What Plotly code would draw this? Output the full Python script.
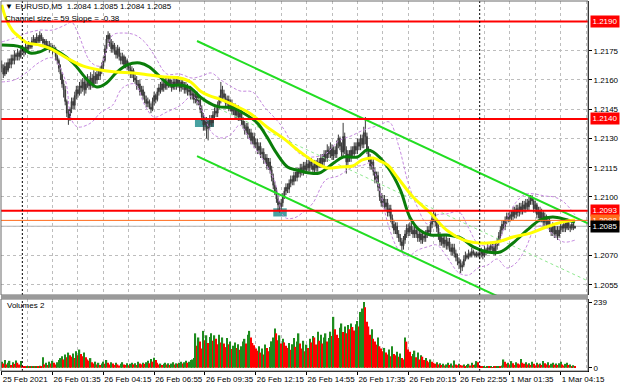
import plotly.graph_objects as go

# ---------------- data ----------------
tick_bars = [0, 32, 64, 96, 128, 160, 192, 224, 256, 288, 320, 352]
tick_labels = ["25 Feb 2021", "26 Feb 01:35", "26 Feb 04:15", "26 Feb 06:55", "26 Feb 09:35",
               "26 Feb 12:15", "26 Feb 14:55", "26 Feb 17:35", "26 Feb 20:15", "26 Feb 22:55",
               "1 Mar 01:35", "1 Mar 04:15"]
price_ticks = [1.2055, 1.2070, 1.2085, 1.2100, 1.2115, 1.2130, 1.2145, 1.2160, 1.2175]
separator_bars = [13, 301]

first_open = 1.2168
closes = [
    1.2166, 1.2163, 1.2167, 1.2165, 1.2169, 1.2168, 1.2171, 1.2170, 1.2173, 1.2172,
    1.2174, 1.2172, 1.2175, 1.2176, 1.2174, 1.2177, 1.2176, 1.2178, 1.2177, 1.2180,
    1.2181, 1.2179, 1.2182, 1.2180, 1.2183, 1.2181, 1.2179, 1.2180, 1.2177, 1.2178,
    1.2176, 1.2177, 1.2175, 1.2176, 1.2172, 1.2170, 1.2166, 1.2163, 1.2158, 1.2155,
    1.2149, 1.2143, 1.2140, 1.2145, 1.2149, 1.2147, 1.2152, 1.2155, 1.2153, 1.2157,
    1.2156, 1.2159, 1.2155, 1.2158, 1.2160, 1.2157, 1.2161, 1.2158, 1.2162, 1.2160,
    1.2163, 1.2162, 1.2165, 1.2167, 1.2170, 1.2176, 1.2181, 1.2183, 1.2179, 1.2176,
    1.2178, 1.2175, 1.2173, 1.2176, 1.2172, 1.2170, 1.2172, 1.2168, 1.2170, 1.2167,
    1.2166, 1.2163, 1.2165, 1.2161, 1.2160, 1.2157, 1.2158, 1.2154, 1.2155, 1.2152,
    1.2150, 1.2148, 1.2149, 1.2146, 1.2145, 1.2149, 1.2152, 1.2150, 1.2154, 1.2156,
    1.2155, 1.2158, 1.2156, 1.2159, 1.2157, 1.2160, 1.2158, 1.2156, 1.2159, 1.2157,
    1.2160, 1.2158, 1.2156, 1.2159, 1.2157, 1.2155, 1.2157, 1.2154, 1.2155, 1.2152,
    1.2153, 1.2150, 1.2152, 1.2149, 1.2150, 1.2145, 1.2141, 1.2137, 1.2139, 1.2135,
    1.2137, 1.2140, 1.2138, 1.2142, 1.2144, 1.2143, 1.2147, 1.2150, 1.2155, 1.2153,
    1.2151, 1.2148, 1.2150, 1.2146, 1.2148, 1.2144, 1.2146, 1.2142, 1.2145, 1.2141,
    1.2143, 1.2139, 1.2137, 1.2134, 1.2136, 1.2132, 1.2133, 1.2129, 1.2131, 1.2127,
    1.2128, 1.2124, 1.2126, 1.2122, 1.2123, 1.2119, 1.2120, 1.2116, 1.2118, 1.2114,
    1.2110, 1.2106, 1.2103, 1.2099, 1.2096, 1.2095, 1.2097, 1.2100, 1.2103, 1.2105,
    1.2104, 1.2107, 1.2109, 1.2108, 1.2111, 1.2110, 1.2113, 1.2112, 1.2115, 1.2113,
    1.2116, 1.2114, 1.2117, 1.2115, 1.2118, 1.2116, 1.2114, 1.2117, 1.2115, 1.2118,
    1.2117, 1.2120, 1.2118, 1.2122, 1.2120, 1.2124, 1.2122, 1.2125, 1.2121, 1.2124,
    1.2122, 1.2127, 1.2130, 1.2126, 1.2123, 1.2131, 1.2124, 1.2118, 1.2122, 1.2120,
    1.2124, 1.2122, 1.2126, 1.2124, 1.2128, 1.2126, 1.2130, 1.2127, 1.2133, 1.2131,
    1.2124, 1.2120, 1.2116, 1.2118, 1.2113, 1.2109, 1.2111, 1.2105, 1.2100, 1.2097,
    1.2099, 1.2095, 1.2097, 1.2092, 1.2094, 1.2089, 1.2086, 1.2083, 1.2085, 1.2081,
    1.2079, 1.2077, 1.2075, 1.2078, 1.2081, 1.2084, 1.2082, 1.2085, 1.2083, 1.2081,
    1.2083, 1.2081, 1.2079, 1.2081, 1.2078, 1.2080, 1.2079, 1.2081, 1.2083, 1.2082,
    1.2086, 1.2089, 1.2091, 1.2087, 1.2084, 1.2080, 1.2077, 1.2079, 1.2076, 1.2078,
    1.2075, 1.2077, 1.2074, 1.2072, 1.2074, 1.2071, 1.2069, 1.2067, 1.2066, 1.2064,
    1.2065, 1.2068, 1.2070, 1.2069, 1.2071, 1.2070, 1.2072, 1.2071, 1.2070, 1.2071,
    1.2070, 1.2071, 1.2072, 1.2070, 1.2073, 1.2072, 1.2074, 1.2073, 1.2075, 1.2074,
    1.2072, 1.2075, 1.2077, 1.2080, 1.2083, 1.2086, 1.2085, 1.2088, 1.2090, 1.2089,
    1.2091, 1.2090, 1.2093, 1.2091, 1.2094, 1.2092, 1.2095, 1.2093, 1.2096, 1.2094,
    1.2097, 1.2095, 1.2098, 1.2100, 1.2098, 1.2094, 1.2096, 1.2091, 1.2093, 1.2089,
    1.2092, 1.2087, 1.2090, 1.2086, 1.2088, 1.2084, 1.2082, 1.2085, 1.2081, 1.2083,
    1.2080, 1.2083, 1.2085, 1.2084, 1.2086, 1.2084, 1.2087, 1.2085, 1.2084, 1.2086, 1.2084, 1.2085,
]
highs = [
    1.2170, 1.2168, 1.2169, 1.2169, 1.2171, 1.2171, 1.2173, 1.2173, 1.2175, 1.2174,
    1.2176, 1.2175, 1.2177, 1.2178, 1.2177, 1.2179, 1.2178, 1.2180, 1.2179, 1.2182,
    1.2183, 1.2182, 1.2184, 1.2183, 1.2185, 1.2184, 1.2182, 1.2181, 1.2181, 1.2180,
    1.2180, 1.2179, 1.2178, 1.2178, 1.2177, 1.2173, 1.2171, 1.2168, 1.2164, 1.2160,
    1.2157, 1.2150, 1.2145, 1.2146, 1.2151, 1.2151, 1.2154, 1.2157, 1.2157, 1.2159,
    1.2160, 1.2161, 1.2161, 1.2160, 1.2163, 1.2162, 1.2164, 1.2163, 1.2165, 1.2164,
    1.2165, 1.2165, 1.2167, 1.2169, 1.2172, 1.2178, 1.2183, 1.2185, 1.2184, 1.2181,
    1.2180, 1.2179, 1.2177, 1.2178, 1.2177, 1.2174, 1.2174, 1.2173, 1.2172, 1.2171,
    1.2169, 1.2168, 1.2167, 1.2166, 1.2163, 1.2162, 1.2160, 1.2160, 1.2157, 1.2157,
    1.2154, 1.2152, 1.2151, 1.2150, 1.2148, 1.2151, 1.2154, 1.2153, 1.2156, 1.2158,
    1.2159, 1.2160, 1.2160, 1.2161, 1.2161, 1.2162, 1.2162, 1.2160, 1.2161, 1.2161,
    1.2162, 1.2162, 1.2160, 1.2161, 1.2161, 1.2159, 1.2159, 1.2158, 1.2157, 1.2157,
    1.2156, 1.2155, 1.2154, 1.2154, 1.2152, 1.2152, 1.2147, 1.2143, 1.2141, 1.2141,
    1.2139, 1.2142, 1.2142, 1.2144, 1.2146, 1.2146, 1.2149, 1.2152, 1.2159, 1.2157,
    1.2155, 1.2153, 1.2152, 1.2152, 1.2150, 1.2150, 1.2148, 1.2148, 1.2147, 1.2147,
    1.2145, 1.2145, 1.2141, 1.2139, 1.2138, 1.2138, 1.2135, 1.2135, 1.2133, 1.2133,
    1.2130, 1.2130, 1.2128, 1.2128, 1.2125, 1.2125, 1.2122, 1.2122, 1.2120, 1.2120,
    1.2116, 1.2112, 1.2108, 1.2105, 1.2101, 1.2098, 1.2099, 1.2102, 1.2105, 1.2107,
    1.2107, 1.2109, 1.2111, 1.2111, 1.2113, 1.2113, 1.2115, 1.2115, 1.2117, 1.2117,
    1.2118, 1.2118, 1.2119, 1.2119, 1.2120, 1.2120, 1.2118, 1.2119, 1.2119, 1.2120,
    1.2120, 1.2122, 1.2122, 1.2124, 1.2124, 1.2127, 1.2126, 1.2128, 1.2127, 1.2126,
    1.2126, 1.2129, 1.2132, 1.2131, 1.2128, 1.2138, 1.2133, 1.2126, 1.2124, 1.2124,
    1.2126, 1.2126, 1.2128, 1.2128, 1.2130, 1.2130, 1.2132, 1.2132, 1.2136, 1.2141,
    1.2133, 1.2126, 1.2122, 1.2120, 1.2120, 1.2115, 1.2113, 1.2113, 1.2107, 1.2102,
    1.2101, 1.2101, 1.2099, 1.2099, 1.2096, 1.2096, 1.2091, 1.2088, 1.2087, 1.2087,
    1.2083, 1.2081, 1.2079, 1.2080, 1.2083, 1.2086, 1.2086, 1.2087, 1.2087, 1.2085,
    1.2085, 1.2085, 1.2083, 1.2083, 1.2083, 1.2082, 1.2082, 1.2083, 1.2085, 1.2085,
    1.2088, 1.2091, 1.2093, 1.2092, 1.2089, 1.2086, 1.2082, 1.2081, 1.2081, 1.2080,
    1.2080, 1.2079, 1.2079, 1.2076, 1.2076, 1.2076, 1.2073, 1.2071, 1.2069, 1.2068,
    1.2067, 1.2070, 1.2072, 1.2071, 1.2073, 1.2072, 1.2074, 1.2073, 1.2072, 1.2072,
    1.2072, 1.2073, 1.2074, 1.2073, 1.2075, 1.2074, 1.2076, 1.2075, 1.2077, 1.2076,
    1.2076, 1.2077, 1.2079, 1.2082, 1.2085, 1.2088, 1.2088, 1.2090, 1.2092, 1.2092,
    1.2093, 1.2093, 1.2095, 1.2095, 1.2096, 1.2096, 1.2097, 1.2097, 1.2098, 1.2098,
    1.2099, 1.2099, 1.2100, 1.2101, 1.2101, 1.2099, 1.2098, 1.2097, 1.2095, 1.2095,
    1.2094, 1.2093, 1.2092, 1.2091, 1.2090, 1.2089, 1.2086, 1.2087, 1.2086, 1.2085,
    1.2085, 1.2085, 1.2087, 1.2086, 1.2088, 1.2087, 1.2089, 1.2088, 1.2086, 1.2087, 1.2087, 1.2085,
]
lows = [
    1.2164, 1.2161, 1.2162, 1.2163, 1.2164, 1.2166, 1.2166, 1.2168, 1.2168, 1.2170,
    1.2170, 1.2170, 1.2171, 1.2174, 1.2172, 1.2173, 1.2175, 1.2175, 1.2176, 1.2176,
    1.2179, 1.2178, 1.2178, 1.2179, 1.2179, 1.2180, 1.2178, 1.2178, 1.2176, 1.2176,
    1.2174, 1.2175, 1.2173, 1.2174, 1.2170, 1.2168, 1.2164, 1.2160, 1.2156, 1.2151,
    1.2147, 1.2141, 1.2137, 1.2139, 1.2143, 1.2145, 1.2145, 1.2150, 1.2151, 1.2152,
    1.2153, 1.2154, 1.2152, 1.2153, 1.2156, 1.2155, 1.2155, 1.2156, 1.2156, 1.2158,
    1.2158, 1.2160, 1.2160, 1.2163, 1.2165, 1.2169, 1.2174, 1.2179, 1.2177, 1.2174,
    1.2174, 1.2173, 1.2171, 1.2171, 1.2170, 1.2168, 1.2168, 1.2166, 1.2166, 1.2165,
    1.2164, 1.2161, 1.2161, 1.2159, 1.2158, 1.2155, 1.2155, 1.2152, 1.2152, 1.2150,
    1.2148, 1.2146, 1.2146, 1.2145, 1.2143, 1.2144, 1.2147, 1.2148, 1.2149, 1.2152,
    1.2153, 1.2154, 1.2154, 1.2155, 1.2155, 1.2156, 1.2156, 1.2154, 1.2155, 1.2155,
    1.2155, 1.2156, 1.2154, 1.2154, 1.2155, 1.2153, 1.2153, 1.2152, 1.2152, 1.2150,
    1.2150, 1.2148, 1.2148, 1.2147, 1.2147, 1.2143, 1.2139, 1.2134, 1.2134, 1.2130,
    1.2129, 1.2135, 1.2136, 1.2136, 1.2140, 1.2141, 1.2141, 1.2145, 1.2148, 1.2150,
    1.2149, 1.2146, 1.2146, 1.2144, 1.2144, 1.2142, 1.2142, 1.2140, 1.2140, 1.2139,
    1.2139, 1.2137, 1.2135, 1.2132, 1.2132, 1.2130, 1.2130, 1.2127, 1.2127, 1.2125,
    1.2125, 1.2122, 1.2122, 1.2120, 1.2120, 1.2117, 1.2117, 1.2114, 1.2114, 1.2112,
    1.2108, 1.2104, 1.2101, 1.2097, 1.2093, 1.2092, 1.2093, 1.2095, 1.2099, 1.2101,
    1.2102, 1.2102, 1.2105, 1.2106, 1.2106, 1.2108, 1.2108, 1.2110, 1.2110, 1.2111,
    1.2111, 1.2112, 1.2112, 1.2113, 1.2113, 1.2114, 1.2112, 1.2112, 1.2113, 1.2113,
    1.2115, 1.2115, 1.2116, 1.2116, 1.2118, 1.2118, 1.2120, 1.2120, 1.2119, 1.2119,
    1.2120, 1.2120, 1.2125, 1.2124, 1.2121, 1.2121, 1.2122, 1.2112, 1.2115, 1.2118,
    1.2118, 1.2120, 1.2120, 1.2122, 1.2122, 1.2124, 1.2124, 1.2125, 1.2125, 1.2127,
    1.2122, 1.2118, 1.2114, 1.2114, 1.2111, 1.2107, 1.2107, 1.2103, 1.2098, 1.2095,
    1.2095, 1.2093, 1.2093, 1.2090, 1.2090, 1.2087, 1.2084, 1.2081, 1.2081, 1.2079,
    1.2077, 1.2075, 1.2072, 1.2073, 1.2076, 1.2079, 1.2080, 1.2080, 1.2081, 1.2079,
    1.2079, 1.2079, 1.2077, 1.2077, 1.2076, 1.2076, 1.2077, 1.2077, 1.2079, 1.2080,
    1.2080, 1.2084, 1.2087, 1.2085, 1.2082, 1.2078, 1.2075, 1.2075, 1.2074, 1.2074,
    1.2073, 1.2073, 1.2072, 1.2070, 1.2070, 1.2069, 1.2067, 1.2065, 1.2063, 1.2061,
    1.2062, 1.2064, 1.2067, 1.2068, 1.2068, 1.2069, 1.2069, 1.2070, 1.2069, 1.2069,
    1.2069, 1.2068, 1.2069, 1.2068, 1.2069, 1.2070, 1.2071, 1.2071, 1.2072, 1.2072,
    1.2070, 1.2070, 1.2073, 1.2075, 1.2078, 1.2081, 1.2083, 1.2083, 1.2086, 1.2087,
    1.2087, 1.2088, 1.2088, 1.2089, 1.2089, 1.2090, 1.2090, 1.2091, 1.2091, 1.2092,
    1.2092, 1.2093, 1.2093, 1.2096, 1.2096, 1.2092, 1.2092, 1.2089, 1.2089, 1.2087,
    1.2087, 1.2085, 1.2085, 1.2084, 1.2084, 1.2082, 1.2080, 1.2080, 1.2079, 1.2079,
    1.2078, 1.2079, 1.2081, 1.2082, 1.2082, 1.2082, 1.2083, 1.2083, 1.2082, 1.2083, 1.2083, 1.2084,
]
volumes = [
    22, 15, 28, 12, 18, 25, 10, 20, 14, 26,
    18, 12, 24, 8, 5, 4, 6, 3, 5, 4,
    6, 3, 5, 4, 7, 5, 38, 12, 18, 10,
    22, 15, 25, 18, 12, 20, 28, 35, 42, 30,
    48, 38, 55, 45, 40, 52, 35, 60, 45, 66,
    50, 42, 55, 38, 30, 25, 35, 20, 15, 22,
    12, 18, 10, 15, 22, 14, 28, 18, 12, 20,
    15, 10, 18, 12, 8, 14, 20, 12, 10, 16,
    9, 14, 18, 12, 16, 10, 22, 15, 12, 18,
    14, 20, 25, 16, 32, 22, 36, 28, 18, 12,
    15, 10, 14, 18, 12, 16, 10, 15, 20, 12,
    16, 14, 18, 22, 15, 20, 25, 18, 22, 28,
    30, 35, 125, 80, 110, 95, 70, 134, 100, 118,
    90, 112, 125, 98, 118, 105, 85, 120, 92, 110,
    88, 75, 108, 85, 95, 68, 80, 92, 72, 85,
    65, 78, 95, 105, 88, 120, 134, 110, 90, 82,
    70, 62, 78, 55, 70, 48, 84, 72, 60, 75,
    96, 110, 143, 125, 100, 118, 88, 105, 92, 80,
    72, 90, 65, 85, 108, 76, 95, 125, 88, 70,
    98, 60, 84, 72, 105, 92, 115, 110, 84, 131,
    98, 120, 88, 110, 125, 95, 108, 131, 115, 185,
    140, 120, 108, 145, 161, 130, 150, 125, 155, 140,
    161, 148, 135, 158, 170, 150, 203, 215, 239, 220,
    167, 150, 120, 140, 105, 95, 84, 110, 78, 70,
    60, 72, 55, 48, 66, 42, 78, 50, 45, 58,
    40, 52, 35, 30, 110, 95, 66, 58, 42, 50,
    62, 38, 55, 30, 45, 40, 28, 35, 25, 20,
    30, 22, 18, 14, 20, 12, 16, 10, 14, 8,
    12, 18, 10, 15, 8, 26, 12, 9, 14, 10,
    8, 12, 6, 10, 14, 8, 18, 10, 12, 24,
    20, 6, 4, 3, 5, 2, 4, 3, 5, 2,
    4, 3, 5, 6, 4, 8, 30, 22, 14, 18,
    12, 24, 16, 10, 20, 15, 12, 32, 18, 14,
    20, 12, 16, 10, 22, 14, 8, 18, 12, 15,
    10, 24, 16, 12, 20, 9, 14, 18, 11, 15,
    10, 16, 22, 12, 8, 14, 18, 10, 12, 6, 9, 4,
]
volume_max_label = 239

green_ma_bars = [0, 12, 18, 24, 30, 37, 45, 54, 60, 66, 72, 79, 87, 93, 100, 106, 112, 119, 125,
                 133, 137, 146, 152, 161, 167, 173, 180, 186, 194, 200, 209, 215, 224, 230, 234,
                 243, 251, 257, 263, 270, 280, 289, 297, 306, 314, 322, 331, 339, 347, 356, 361]
green_ma = [1.21779, 1.21769, 1.21738, 1.21744, 1.21764, 1.21738, 1.21687, 1.21600, 1.21564,
            1.21585, 1.21636, 1.21677, 1.21687, 1.21667, 1.21615, 1.21574, 1.21574, 1.21559,
            1.21513, 1.21472, 1.21462, 1.21456, 1.21431, 1.21379, 1.21308, 1.21226, 1.21154,
            1.21138, 1.21123, 1.21123, 1.21174, 1.21205, 1.21205, 1.21241, 1.21231, 1.21154,
            1.21036, 1.20897, 1.20831, 1.20805, 1.20805, 1.20790, 1.20744, 1.20718, 1.20718,
            1.20764, 1.20831, 1.20882, 1.20897, 1.20882, 1.20872]

yellow_ma_bars = [0, 3, 7, 12, 16, 24, 30, 41, 51, 62, 72, 83, 93, 104, 112, 119, 125, 131, 137,
                  146, 156, 167, 177, 188, 198, 205, 213, 221, 227, 234, 238, 243, 249, 259, 270,
                  280, 291, 301, 312, 322, 333, 343, 353, 361]
yellow_ma = [1.21985, 1.21908, 1.21851, 1.21815, 1.21790, 1.21779, 1.21764, 1.21713, 1.21672,
             1.21651, 1.21641, 1.21636, 1.21626, 1.21615, 1.21610, 1.21590, 1.21544, 1.21518,
             1.21503, 1.21472, 1.21431, 1.21359, 1.21303, 1.21231, 1.21174, 1.21149, 1.21154,
             1.21159, 1.21190, 1.21200, 1.21185, 1.21164, 1.21103, 1.21000, 1.20918, 1.20831,
             1.20779, 1.20764, 1.20769, 1.20795, 1.20815, 1.20846, 1.20872, 1.20882]

bb_bars = [0, 8, 16, 24, 32, 40, 44, 48, 56, 62, 66, 70, 76, 84, 90, 96, 104, 112, 120, 126, 132,
           138, 144, 150, 158, 166, 172, 178, 184, 190, 196, 204, 212, 220, 228, 232, 238, 244,
           250, 256, 262, 268, 274, 280, 288, 294, 300, 306, 312, 318, 324, 330, 336, 342, 348,
           354, 361]
bb_upper = [1.21795, 1.21815, 1.21841, 1.21856, 1.21856, 1.21882, 1.21897, 1.21841, 1.21692,
            1.21672, 1.21754, 1.21831, 1.21841, 1.21831, 1.21795, 1.21728, 1.21631, 1.21631,
            1.21610, 1.21621, 1.21636, 1.21600, 1.21569, 1.21544, 1.21538, 1.21456, 1.21405,
            1.21344, 1.21251, 1.21210, 1.21205, 1.21221, 1.21287, 1.21313, 1.21344, 1.21354,
            1.21369, 1.21385, 1.21262, 1.21072, 1.20944, 1.20862, 1.20908, 1.20913, 1.20923,
            1.20841, 1.20759, 1.20749, 1.20759, 1.20882, 1.20974, 1.21015, 1.21015, 1.21005,
            1.21000, 1.20974, 1.20908]
bb_lower = [1.21590, 1.21600, 1.21641, 1.21692, 1.21713, 1.21600, 1.21395, 1.21359, 1.21379,
            1.21431, 1.21451, 1.21472, 1.21559, 1.21579, 1.21472, 1.21410, 1.21436, 1.21467,
            1.21518, 1.21446, 1.21333, 1.21303, 1.21318, 1.21369, 1.21267, 1.21174, 1.21077,
            1.20897, 1.20892, 1.20923, 1.20969, 1.21087, 1.21108, 1.21149, 1.21164, 1.21174,
            1.21036, 1.20841, 1.20728, 1.20697, 1.20728, 1.20744, 1.20754, 1.20697, 1.20610,
            1.20600, 1.20636, 1.20651, 1.20682, 1.20636, 1.20662, 1.20738, 1.20841, 1.20851,
            1.20800, 1.20769, 1.20779]

channel_start_bar = 123
channel_end_bar = 372
channel_upper_start = 1.2180
channel_size = 0.0059          # "Channel size = 59"
channel_slope = -0.000038      # "Slope = -0.38" pips per bar

level_prices = [1.2190, 1.2140, 1.2093]
orange_level = 1.2088
bid_price = 1.2085

zone_bar_start = [121.7, 171.0]
zone_bar_end = [133.7, 179.5]
zone_low = [1.21359, 1.20900]
zone_high = [1.21397, 1.20942]

title_text = "\u25BC EURUSD,M5  1.2084 1.2085 1.2084 1.2085"
channel_text = "Channel size = 59 Slope = -0.38"

# ---------------- derived ----------------
bars = list(range(len(closes)))
opens = [first_open] + closes[:-1]
vol_colors = ["#1e8c1e" if i == 0 or volumes[i] >= volumes[i - 1] else "#ff0000"
              for i in range(len(volumes))]

x_range = [-0.44, 369.2]
y_range = [1.204974, 1.220051]
vol_range = [-12, 250]
MAIN_DOM = [0.2054, 1.0]
VOL_DOM = [0.0, 0.1946]
FONT = "Liberation Sans, Arial, DejaVu Sans, sans-serif"
GRID = "#bdbdbd"

ch_x = [channel_start_bar, channel_end_bar]
ch_upper = [channel_upper_start, channel_upper_start + channel_slope * (channel_end_bar - channel_start_bar)]
ch_mid = [v - channel_size / 2 for v in ch_upper]
ch_lower = [v - channel_size for v in ch_upper]

fig = go.Figure()

# Bollinger-like envelopes
for band in (bb_upper, bb_lower):
    fig.add_trace(go.Scatter(x=bb_bars, y=band, mode="lines", xaxis="x", yaxis="y",
                             line=dict(color="#c68ae0", width=1, dash="3px,2px", shape="spline"),
                             hoverinfo="skip"))
# channel middle (dotted)
fig.add_trace(go.Scatter(x=ch_x, y=ch_mid, mode="lines", xaxis="x", yaxis="y",
                         line=dict(color="#8fe88f", width=1, dash="3px,3px"), hoverinfo="skip"))
# candles
fig.add_trace(go.Candlestick(x=bars, open=opens, high=highs, low=lows, close=closes,
                             xaxis="x", yaxis="y", whiskerwidth=0,
                             increasing=dict(line=dict(color="#3a3a3a", width=1), fillcolor="#3a3a3a"),
                             decreasing=dict(line=dict(color="#3a3a3a", width=1), fillcolor="#3a3a3a"),
                             hoverinfo="skip"))
# moving averages
fig.add_trace(go.Scatter(x=green_ma_bars, y=green_ma, mode="lines", xaxis="x", yaxis="y",
                         line=dict(color="#0a7d0a", width=3, shape="spline"), hoverinfo="skip"))
fig.add_trace(go.Scatter(x=yellow_ma_bars, y=yellow_ma, mode="lines", xaxis="x", yaxis="y",
                         line=dict(color="#ffff00", width=3, shape="spline"), hoverinfo="skip"))
# channel borders
for ch in (ch_upper, ch_lower):
    fig.add_trace(go.Scatter(x=ch_x, y=ch, mode="lines", xaxis="x", yaxis="y",
                             line=dict(color="#22dd22", width=2), hoverinfo="skip"))
# volumes
fig.add_trace(go.Bar(x=bars, y=volumes, xaxis="x2", yaxis="y2", width=0.85,
                     marker=dict(color=vol_colors, line=dict(width=0)), hoverinfo="skip"))

shapes = []
for x0, x1, lo, hi in zip(zone_bar_start, zone_bar_end, zone_low, zone_high):
    shapes.append(dict(type="rect", xref="x", yref="y", x0=x0, x1=x1, y0=lo, y1=hi,
                       fillcolor="rgba(40,145,145,0.85)", line=dict(width=0), layer="between"))
for lv in level_prices:
    shapes.append(dict(type="line", xref="paper", yref="y", x0=0, x1=1, y0=lv, y1=lv,
                       line=dict(color="#ff0000", width=2), layer="above"))
shapes.append(dict(type="line", xref="paper", yref="y", x0=0, x1=1, y0=orange_level, y1=orange_level,
                   line=dict(color="#ff6a1a", width=1), layer="above"))
shapes.append(dict(type="line", xref="paper", yref="y", x0=0, x1=1, y0=bid_price, y1=bid_price,
                   line=dict(color="#b0b0b0", width=1), layer="between"))
for sb in separator_bars:
    shapes.append(dict(type="line", xref="x", yref="paper", x0=sb, x1=sb, y0=0, y1=1,
                       line=dict(color="#000000", width=1, dash="2px,2px"), layer="above"))
shapes.append(dict(type="rect", xref="paper", yref="paper", x0=0, x1=1, y0=MAIN_DOM[0], y1=1,
                   line=dict(color="#6a6a6a", width=1), layer="above"))
shapes.append(dict(type="rect", xref="paper", yref="paper", x0=0, x1=1, y0=VOL_DOM[0], y1=VOL_DOM[1],
                   line=dict(color="#6a6a6a", width=1), layer="above"))
shapes.append(dict(type="rect", xref="paper", yref="paper", x0=0, x1=1, y0=VOL_DOM[1], y1=MAIN_DOM[0],
                   fillcolor="#9a9a9a", line=dict(width=0), layer="above"))

annotations = []
box_specs = [(lv, "#ff0000", "#ffffff") for lv in level_prices]
box_specs += [(orange_level, "#ff6a1a", "#ffffff"), (bid_price, "#000000", "#ffffff")]
for lv, bg, fg in box_specs:
    annotations.append(dict(xref="paper", yref="y", x=1.0026, y=lv, xanchor="left", yanchor="middle",
                            text=f"{lv:.4f}", showarrow=False, bgcolor=bg, borderpad=1, width=26,
                            font=dict(family=FONT, size=8, color=fg)))
annotations.append(dict(xref="paper", yref="paper", x=0.004, y=0.9838, xanchor="left", yanchor="middle",
                        text=title_text, showarrow=False, font=dict(family=FONT, size=8, color="#000")))
annotations.append(dict(xref="paper", yref="paper", x=0.004, y=0.954, xanchor="left", yanchor="middle",
                        text=channel_text, showarrow=False, font=dict(family=FONT, size=8, color="#000")))
annotations.append(dict(xref="paper", yref="paper", x=0.007, y=0.1757, xanchor="left", yanchor="middle",
                        text="Volumes 2", showarrow=False, font=dict(family=FONT, size=8, color="#000")))

grid_minor = dict(tickmode="linear", tick0=16, dtick=32, showgrid=True, gridcolor=GRID,
                  griddash="3px,3px", gridwidth=1, ticks="")

fig.update_layout(
    width=620, height=388,
    margin=dict(l=1, r=32, t=1, b=17, autoexpand=False),
    paper_bgcolor="#ffffff", plot_bgcolor="#ffffff",
    showlegend=False, hovermode=False,
    shapes=shapes, annotations=annotations,
    xaxis=dict(domain=[0, 1], anchor="y", range=x_range, tickmode="array", tickvals=tick_bars,
               showticklabels=False, ticks="", showgrid=True, gridcolor=GRID, griddash="3px,3px",
               gridwidth=1, zeroline=False, showline=False, rangeslider=dict(visible=False),
               minor=grid_minor),
    xaxis2=dict(domain=[0, 1], anchor="y2", range=x_range, tickmode="array", tickvals=tick_bars,
                ticktext=tick_labels, ticks="outside", ticklen=3, tickcolor="#000", tickangle=0,
                ticklabelposition="outside right", automargin=False,
                tickfont=dict(family=FONT, size=8, color="#000"), showgrid=True, gridcolor=GRID,
                griddash="3px,3px", gridwidth=1, zeroline=False, showline=True, linecolor="#000",
                minor=grid_minor),
    yaxis=dict(domain=MAIN_DOM, anchor="x", range=y_range, side="right", tickmode="array",
               tickvals=price_ticks, ticktext=[f"{p:.4f}" for p in price_ticks], ticks="outside",
               ticklen=3, tickcolor="#000", tickfont=dict(family=FONT, size=8, color="#000"),
               showgrid=True, gridcolor=GRID, griddash="3px,3px", gridwidth=1, zeroline=False,
               showline=True, linecolor="#000", linewidth=1, automargin=False),
    yaxis2=dict(domain=VOL_DOM, anchor="x2", range=vol_range, side="right", tickmode="array",
                tickvals=[0, volume_max_label], ticktext=["0", str(volume_max_label)], ticks="outside",
                ticklen=3, tickcolor="#000", tickfont=dict(family=FONT, size=8, color="#000"),
                showgrid=False, zeroline=False, showline=True, linecolor="#000", linewidth=1,
                automargin=False),
)

fig.write_html("out.html", config={"displayModeBar": False},
               post_script="document.body.style.margin='0px';document.body.style.overflow='hidden';")
